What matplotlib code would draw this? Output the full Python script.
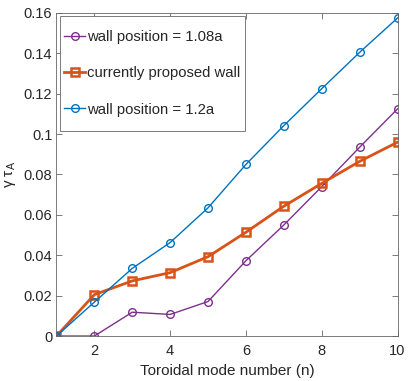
import numpy as np
import matplotlib.pyplot as plt
from matplotlib.patches import Rectangle

n = [1, 2, 3, 4, 5, 6, 7, 8, 9, 10]
wall_108 = [0, 0, 0.0118, 0.0107, 0.0171, 0.0373, 0.055, 0.074, 0.0935, 0.1125]
proposed = [0, 0.0205, 0.0273, 0.0314, 0.0393, 0.0514, 0.0643, 0.0756, 0.0865, 0.0960]
wall_12 = [0, 0.0168, 0.0335, 0.0463, 0.0635, 0.085, 0.1042, 0.1225, 0.1405, 0.1575]

txt = '#262626'
plt.rcParams['font.family'] = ['Liberation Sans', 'DejaVu Sans']
plt.rcParams['mathtext.fontset'] = 'custom'
plt.rcParams['mathtext.rm'] = 'Liberation Sans'
plt.rcParams['font.size'] = 10

fig = plt.figure(figsize=(4.09, 3.81), dpi=100)
ax = fig.add_axes([0.138, 0.118, 0.834, 0.848])

ax.plot(n, wall_108, '-o', color='#7E2F8E', lw=1.0, ms=5.5, mfc='none', mew=1.0,
        label='wall position = 1.08a')
ax.plot(n, proposed, '-s', color='#D95319', lw=2.0, ms=5.5, mfc='none', mew=1.8,
        label='currently proposed wall')
ax.plot(n, wall_12, '-o', color='#0072BD', lw=1.0, ms=5.5, mfc='none', mew=1.0,
        label='wall position = 1.2a')

ax.set_xlim(1, 10)
ax.set_ylim(0, 0.16)
ax.set_xticks([2, 4, 6, 8, 10])
ax.set_yticks(np.arange(0, 0.161, 0.02))
ax.set_yticklabels(['0', '0.02', '0.04', '0.06', '0.08', '0.1', '0.12', '0.14', '0.16'])
ax.tick_params(direction='in', top=True, right=True, length=4, width=0.6,
               colors='#666666', labelcolor=txt, labelsize=10.5)
ax.tick_params(axis='x', pad=6)
ax.tick_params(axis='y', pad=3)
for s in ax.spines.values():
    s.set_color('#666666')
    s.set_linewidth(0.6)

ax.set_xlabel('Toroidal mode number (n)', color=txt, fontsize=11, labelpad=4)
ax.set_ylabel('γ τ$_{\\mathregular{A}}$', color=txt, fontsize=11, labelpad=4)

# legend without its own frame; a taller box is drawn behind it (matlab look)
leg = ax.legend(loc='upper left', bbox_to_anchor=(0.0105, 0.961), fontsize=10.7,
                labelspacing=1.5, handlelength=1.4, handletextpad=0.13,
                borderpad=0.3, borderaxespad=0, frameon=False)
for t in leg.get_texts():
    t.set_color(txt)

fig.canvas.draw()
bb = leg.get_window_extent()
extra = 9.5
(x0, y0), (x1, y1) = ax.transAxes.inverted().transform(
    [(bb.x0, bb.y0 - extra), (bb.x1, bb.y1 + extra)])
ax.add_patch(Rectangle((x0, y0), x1 - x0, y1 - y0, transform=ax.transAxes,
                       facecolor='white', edgecolor='#666666', lw=0.6, zorder=4.9))

fig.savefig('out.png', dpi=100)
